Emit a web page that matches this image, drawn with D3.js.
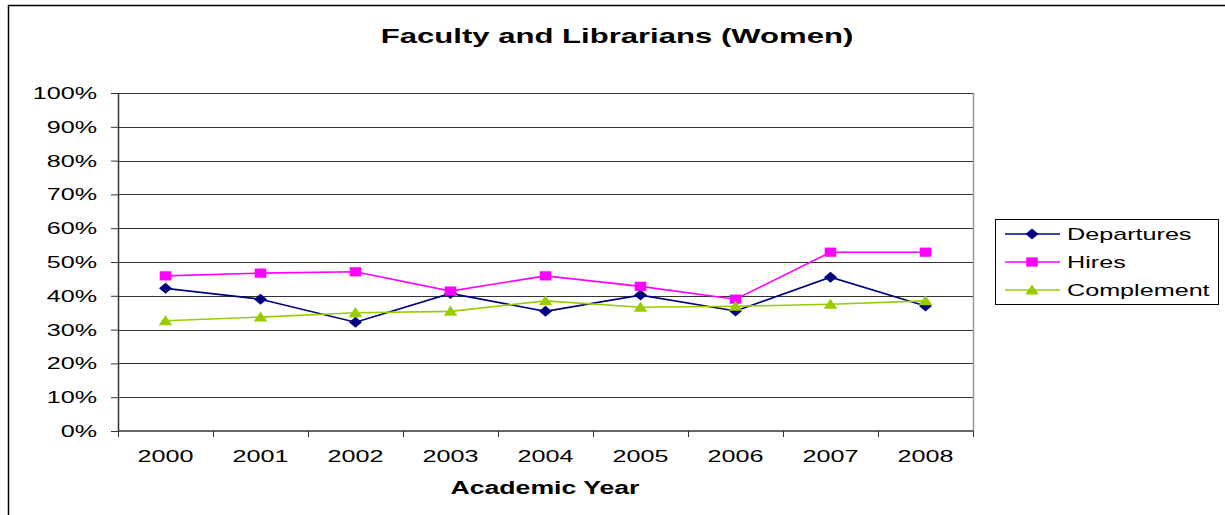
<!DOCTYPE html>
<html>
<head>
<meta charset="utf-8">
<script src="https://cdn.jsdelivr.net/npm/d3@7"></script>
<style>
  body { margin: 0; background: #fff; }
  text { font-family: "Liberation Sans", Arial, sans-serif; }
</style>
</head>
<body>
<svg width="1225" height="515"></svg>
<script>
// chart data
const years = ["2000", "2001", "2002", "2003", "2004", "2005", "2006", "2007", "2008"];
const departures = [0.422, 0.39, 0.322, 0.407, 0.354, 0.402, 0.355, 0.455, 0.37];
const hires = [0.459, 0.467, 0.471, 0.414, 0.459, 0.428, 0.39, 0.529, 0.529];
const complement = [0.326, 0.337, 0.35, 0.354, 0.385, 0.366, 0.369, 0.375, 0.385];
const yTicks = [0, 0.1, 0.2, 0.3, 0.4, 0.5, 0.6, 0.7, 0.8, 0.9, 1];

//the original text is stretched sideways
const stretch = 1.48;

//marker outlines, wider than tall like the source
function diamond(w, h) { return `M${-w},0L0,${-h}L${w},0L0,${h}Z`; }
function square(w, h) { return `M${-w},${-h}H${w}V${h}H${-w}Z`; }
function triangle(w, h) { return `M0,${-h}L${w},${h * 0.8}L${-w},${h * 0.8}Z`; }

const series = [
    {name: "Departures", values: departures, color: "#000080", shape: diamond(6.5, 5.5)},
    {name: "Hires", values: hires, color: "#ff00ff", shape: square(5.8, 4.6)},
    {name: "Complement", values: complement, color: "#99cc00", shape: triangle(6.8, 5.6)}
];

const svg = d3.select("svg");
const plotLeft = 118, plotRight = 973, plotTop = 93, plotBottom = 431;

const x = d3.scaleBand().domain(years).range([plotLeft, plotRight]);
const y = d3.scaleLinear().domain([0, 1]).range([plotBottom, plotTop]);

function addText(parent, tx, ty, str, size, anchor, bold) {
    return parent.append("text")
        .attr("transform", `translate(${tx},${ty}) scale(${stretch},1)`)
        .attr("text-anchor", anchor)
        .attr("font-size", size)
        .attr("font-weight", bold ? "bold" : "normal")
        .text(str);
}

//outer frame (only top and left show in the crop)
svg.append("path")
    .attr("d", "M8.5,515 L8.5,5.5 L1225,5.5")
    .attr("fill", "none")
    .attr("stroke", "#000")
    .attr("stroke-width", 1.5);

//title
addText(svg, 617, 43, "Faculty and Librarians (Women)", 21, "middle", true);

//gridlines
svg.append("g")
    .selectAll("line")
    .data(yTicks.slice(1))
    .join("line")
    .attr("x1", plotLeft)
    .attr("x2", plotRight)
    .attr("y1", d => Math.round(y(d)) + 0.5)
    .attr("y2", d => Math.round(y(d)) + 0.5)
    .attr("stroke", "#333");

//plot right border
svg.append("line")
    .attr("x1", plotRight + 0.5).attr("x2", plotRight + 0.5)
    .attr("y1", plotTop).attr("y2", plotBottom)
    .attr("stroke", "#999").attr("stroke-width", 1.5);

//y axis
const yAxis = svg.append("g")
    .attr("transform", `translate(${plotLeft},0)`)
    .call(d3.axisLeft(y).tickValues(yTicks).tickFormat(d3.format(".0%")).tickSize(7).tickSizeOuter(0));
yAxis.select(".domain").attr("stroke", "#333").attr("stroke-width", 1.5);
yAxis.selectAll(".tick line").attr("stroke", "#333");
yAxis.selectAll("text")
    .attr("font-size", 17).attr("fill", "#000")
    .attr("font-family", "Liberation Sans, Arial, sans-serif")
    .attr("x", -21 / stretch)
    .attr("transform", `scale(${stretch},1)`);

//x axis: ticks between categories
const xAxis = svg.append("g")
    .attr("transform", `translate(0,${plotBottom})`);
xAxis.append("line")
    .attr("x1", plotLeft).attr("x2", plotRight)
    .attr("stroke", "#333").attr("stroke-width", 1.5);
xAxis.selectAll(".sep")
    .data(years.concat(["end"]))
    .join("line")
    .attr("class", "sep")
    .attr("x1", (d, i) => Math.round(plotLeft + i * x.step()) + 0.5)
    .attr("x2", (d, i) => Math.round(plotLeft + i * x.step()) + 0.5)
    .attr("y1", 0).attr("y2", 6)
    .attr("stroke", "#333");
years.forEach(d => addText(xAxis, x(d) + x.bandwidth() / 2, 31, d, 17, "middle", false));

//x axis title
addText(svg, 545, 494, "Academic Year", 18, "middle", true);

//lines and markers
const line = d3.line()
    .x((d, i) => x(years[i]) + x.bandwidth() / 2)
    .y(d => y(d));

series.forEach(s => {
    svg.append("path")
        .attr("d", line(s.values))
        .attr("fill", "none")
        .attr("stroke", s.color)
        .attr("stroke-width", 1.6);
    svg.append("g")
        .selectAll("path")
        .data(s.values)
        .join("path")
        .attr("d", s.shape)
        .attr("transform", (d, i) => `translate(${x(years[i]) + x.bandwidth() / 2},${y(d)})`)
        .attr("fill", s.color);
});

//legend
const legend = svg.append("g");
legend.append("rect")
    .attr("x", 995.5).attr("y", 219.5)
    .attr("width", 223).attr("height", 85)
    .attr("fill", "#fff").attr("stroke", "#000");
series.forEach((s, i) => {
    const ly = 234 + i * 28;
    legend.append("line")
        .attr("x1", 1005).attr("x2", 1060)
        .attr("y1", ly).attr("y2", ly)
        .attr("stroke", s.color).attr("stroke-width", 1.5);
    legend.append("path")
        .attr("d", s.shape)
        .attr("transform", `translate(1032,${ly})`)
        .attr("fill", s.color);
    addText(legend, 1067, ly + 6, s.name, 17, "start", false);
});
</script>
</body>
</html>
